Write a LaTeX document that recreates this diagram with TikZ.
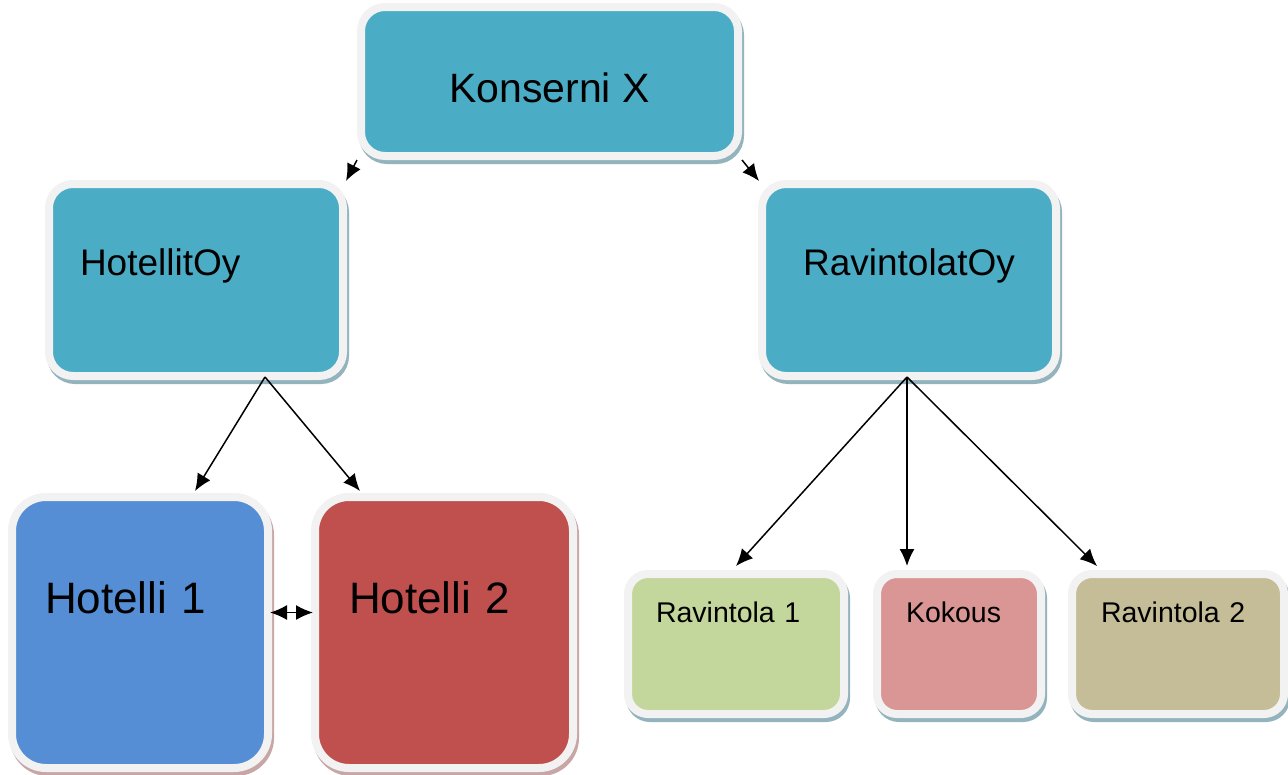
\documentclass[tikz,border=0pt]{standalone}
\usepackage{fontspec}
\setmainfont{Liberation Sans}
\usetikzlibrary{arrows.meta}

\definecolor{edge}{HTML}{F2F2F2}
\definecolor{unitteal}{HTML}{4BACC6}
\definecolor{hotelblue}{HTML}{558ED5}
\definecolor{hotelred}{HTML}{C0504D}
\definecolor{ravgreen}{HTML}{C3D69B}
\definecolor{ravpink}{HTML}{D99694}
\definecolor{ravtan}{HTML}{C4BD97}
\definecolor{shadowblue}{HTML}{93B3BD}
\definecolor{shadowrose}{HTML}{C8A6A6}

\tikzset{
  unit/.style={rectangle, rounded corners=24pt, draw=edge, line width=8pt,
    inner ysep=0pt, text height=0pt, align=left,
    preaction={fill=#1, draw=#1, line width=8pt,
      transform canvas={xshift=2pt, yshift=-4pt}}},
  unit/.default=shadowblue,
  company/.style={font=\fontsize{37}{44}\selectfont, text depth=10pt},
  hotel/.style={font=\fontsize{44}{52}\selectfont, text depth=39pt},
  outlet/.style={font=\fontsize{28.5}{34}\selectfont, text depth=44pt},
  link/.style={line width=1.5pt},
}

\begin{document}
\begin{tikzpicture}[x=1pt, y=-1pt, >={Latex[length=17pt,width=15pt]}]
  \useasboundingbox (0,0) rectangle (1288,774);

  % top level
  \node[unit, fill=unitteal, minimum width=377, minimum height=149,
    font=\fontsize{41}{48}\selectfont, text height=41pt, text depth=0pt,
    align=center] (kx) at (549.5,81.5) {Konserni X};

  % companies
  \node[unit, company, fill=unitteal, minimum width=294, minimum height=192,
    inner xsep=31pt, text width=232pt] (hoy) at (196,280) {HotellitOy};
  \node[unit, company, fill=unitteal, minimum width=294, minimum height=192,
    inner xsep=41pt, text width=212pt, align=center] (roy) at (909,280) {RavintolatOy};

  % hotels
  \node[unit=shadowrose, hotel, fill=hotelblue, rounded corners=34pt,
    minimum width=256, minimum height=271,
    inner xsep=33pt, text width=190pt] (h1) at (140,632.5) {Hotelli 1};
  \node[unit=shadowrose, hotel, fill=hotelred, rounded corners=34pt,
    minimum width=258, minimum height=271,
    inner xsep=34pt, text width=190pt] (h2) at (444,632.5) {Hotelli 2};

  % restaurants
  \node[unit, outlet, fill=ravgreen, rounded corners=20pt,
    minimum width=216, minimum height=140,
    inner xsep=28pt, text width=160pt] (r1) at (736,644) {Ravintola 1};
  \node[unit, outlet, fill=ravpink, rounded corners=20pt,
    minimum width=164, minimum height=140,
    inner xsep=29pt, text width=106pt] (kok) at (959,644) {Kokous};
  \node[unit, outlet, fill=ravtan, rounded corners=20pt,
    minimum width=212, minimum height=140,
    inner xsep=29pt, text width=154pt] (r2) at (1178,644) {Ravintola 2};

  % connectors
  \draw[->, link] (kx.south west) -- ([xshift=-1pt,yshift=-1pt]hoy.north east);
  \draw[->, link] (kx.south east) -- ([xshift=1pt,yshift=-1pt]roy.north west);
  \draw[->, link] ([xshift=69pt,yshift=3pt]hoy.south) -- ([xshift=55pt,yshift=2pt]h1.north);
  \draw[->, link] ([xshift=69pt,yshift=3pt]hoy.south) -- ([xshift=-84pt,yshift=2pt]h2.north);
  \draw[->, link] ([xshift=-2pt,yshift=3pt]roy.south) -- ([yshift=4pt]r1.north);
  \draw[->, link] ([xshift=-2pt,yshift=3pt]roy.south) -- ([xshift=-52pt,yshift=4pt]kok.north);
  \draw[->, link] ([xshift=-2pt,yshift=3pt]roy.south) -- ([xshift=-81pt,yshift=4pt]r2.north);
  \draw[<->, link] ([xshift=-2pt,yshift=20pt]h1.east) -- ([xshift=2pt,yshift=20pt]h2.west);
\end{tikzpicture}
\end{document}
